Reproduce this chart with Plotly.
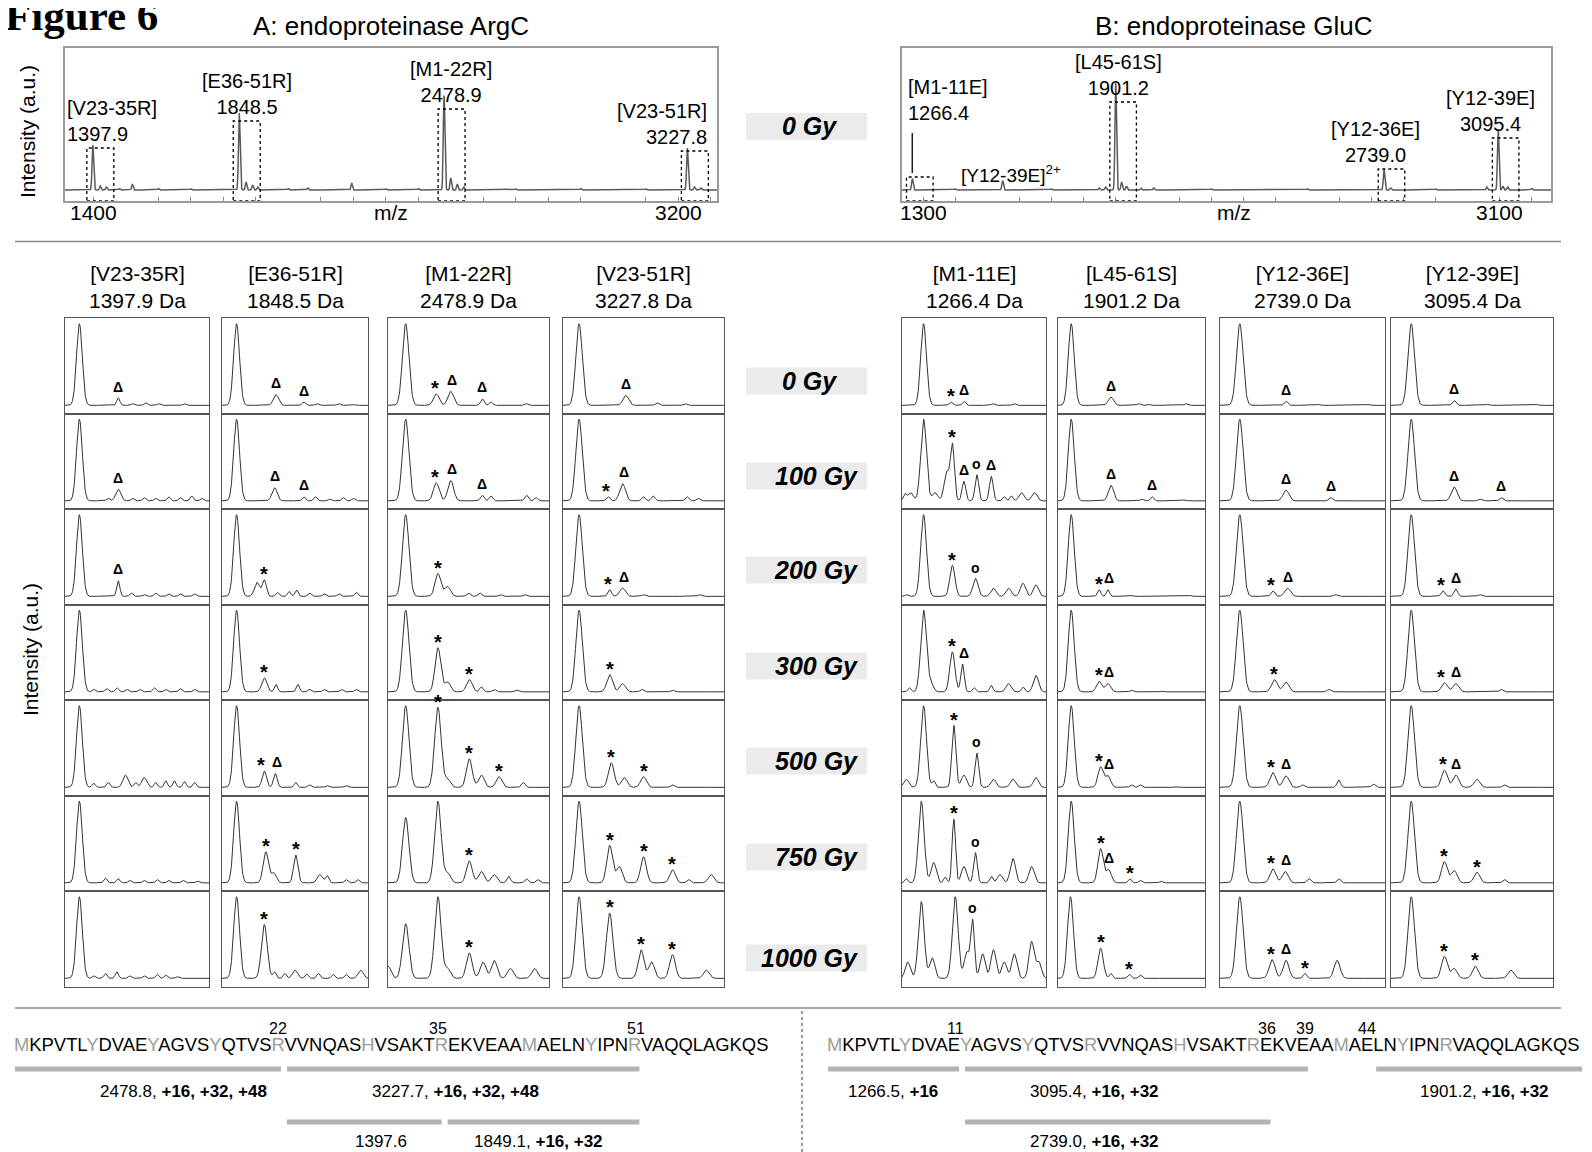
import numpy as np
import plotly.graph_objects as go

# The page body adds an 8 px margin, so the figure is drawn 8 px in from the corner.
OX, OY = 8, 8
W, H = 1592 - OX, 1152 - OY
FONT = "Liberation Sans, Arial, sans-serif"

# ------------------------------------------------------------------ data
DOSES = ["0 Gy", "100 Gy", "200 Gy", "300 Gy", "500 Gy", "750 Gy", "1000 Gy"]

ARGC_PEPTIDES = ["[V23-35R]", "[E36-51R]", "[M1-22R]", "[V23-51R]"]
ARGC_MASSES = [1397.9, 1848.5, 2478.9, 3227.8]
ARGC_INTENSITY = [38, 65, 77, 35]
ARGC_MINOR_MZ = [1400, 1421, 1440, 1520, 1851, 1870, 1890, 1906, 2060, 2195, 2481, 2500, 2520, 2540, 3230, 3250, 3270,
                 1480, 1600, 1700, 2000, 2300, 2400, 2700, 2900, 3100]
ARGC_MINOR_INT = [10, 4, 3, 6, 20, 8, 5, 3, 2, 7, 25, 12, 6, 3, 10, 3, 2,
                  1.5, 1.5, 1.2, 1.5, 1.2, 1.5, 1.2, 1.5, 1.2]
ARGC_TICKS = [1400, 3200]

GLUC_PEPTIDES = ["[M1-11E]", "[L45-61S]", "[Y12-36E]", "[Y12-39E]"]
GLUC_MASSES = [1266.4, 1901.2, 2739.0, 3095.4]
GLUC_INTENSITY = [9, 84, 17, 48]
GLUC_MINOR_MZ = [1268, 1548.2, 1550, 1850, 1870, 1903, 1920, 1935, 1980, 2020, 2741, 2760, 3060, 3097, 3110, 3125, 3200,
                 1400, 1700, 2200, 2500, 2900]
GLUC_MINOR_INT = [3, 7, 3, 2, 3, 30, 8, 4, 2, 2, 5, 2, 3, 15, 4, 3, 1.5,
                  1.2, 1.2, 1.2, 1.2, 1.2]
GLUC_TICKS = [1300, 3100]

# zoomed peak profiles: [position (fraction of window), relative height, (optional width)]
V23_35R_PEAKS = [
    [[0.10, 1], [0.37, 0.09], [0.47, 0.02], [0.56, 0.03], [0.65, 0.02], [0.83, 0.02]],
    [[0.10, 1], [0.37, 0.14], [0.30, 0.03], [0.47, 0.03], [0.55, 0.04], [0.63, 0.03], [0.72, 0.05], [0.80, 0.04], [0.88, 0.06], [0.95, 0.03]],
    [[0.10, 1], [0.37, 0.19, 0.011], [0.46, 0.04], [0.55, 0.02], [0.63, 0.04], [0.72, 0.03], [0.80, 0.03], [0.90, 0.03]],
    [[0.10, 1], [0.20, 0.03], [0.29, 0.04], [0.36, 0.05], [0.43, 0.03], [0.52, 0.03], [0.62, 0.05], [0.70, 0.03], [0.80, 0.04], [0.90, 0.03]],
    [[0.10, 1], [0.20, 0.05], [0.30, 0.06], [0.42, 0.15], [0.49, 0.06], [0.55, 0.12], [0.63, 0.06], [0.70, 0.08], [0.76, 0.08], [0.83, 0.07], [0.90, 0.06]],
    [[0.10, 1], [0.28, 0.06], [0.37, 0.05], [0.45, 0.03], [0.55, 0.03], [0.64, 0.04], [0.72, 0.03], [0.82, 0.03], [0.92, 0.02]],
    [[0.10, 1], [0.20, 0.03], [0.28, 0.06], [0.36, 0.08], [0.45, 0.03], [0.55, 0.03], [0.64, 0.05], [0.70, 0.04], [0.78, 0.02]],
]
V23_35R_MARKS = [[[0.37, "Δ"]], [[0.37, "Δ"]], [[0.37, "Δ"]], [], [], [], []]

E36_51R_PEAKS = [
    [[0.10, 1], [0.37, 0.13], [0.56, 0.04], [0.65, 0.02], [0.80, 0.02], [0.90, 0.01]],
    [[0.10, 1], [0.36, 0.16], [0.56, 0.05], [0.64, 0.05], [0.74, 0.02], [0.83, 0.04], [0.90, 0.03]],
    [[0.10, 1], [0.24, 0.17], [0.29, 0.20, 0.014], [0.38, 0.05], [0.46, 0.06], [0.51, 0.08], [0.60, 0.04], [0.70, 0.03], [0.80, 0.03], [0.92, 0.05]],
    [[0.10, 1], [0.29, 0.17], [0.37, 0.09], [0.52, 0.09], [0.60, 0.03], [0.70, 0.03], [0.82, 0.03], [0.92, 0.03]],
    [[0.10, 1], [0.29, 0.20, 0.015], [0.365, 0.17, 0.013], [0.505, 0.06], [0.60, 0.03], [0.72, 0.02], [0.85, 0.02]],
    [[0.10, 1], [0.30, 0.38], [0.355, 0.12], [0.505, 0.34, 0.015], [0.67, 0.10], [0.72, 0.09], [0.85, 0.04], [0.93, 0.04]],
    [[0.10, 1], [0.29, 0.66], [0.36, 0.08], [0.43, 0.06], [0.50, 0.10], [0.58, 0.05], [0.66, 0.06], [0.76, 0.05], [0.85, 0.05], [0.95, 0.10]],
]
E36_51R_MARKS = [[[0.37, "Δ"], [0.56, "Δ"]], [[0.36, "Δ"], [0.56, "Δ"]], [[0.29, "*"]], [[0.29, "*"]],
                 [[0.27, "*"], [0.38, "Δ"]], [[0.30, "*"], [0.505, "*"]], [[0.29, "*"]]]

M1_22R_PEAKS = [
    [[0.11, 1], [0.30, 0.14], [0.39, 0.17], [0.585, 0.08], [0.64, 0.04], [0.86, 0.02]],
    [[0.11, 1], [0.30, 0.22], [0.39, 0.25], [0.585, 0.07], [0.64, 0.06], [0.86, 0.07], [0.92, 0.04]],
    [[0.11, 1], [0.31, 0.28], [0.37, 0.12], [0.50, 0.04], [0.57, 0.04], [0.70, 0.02], [0.85, 0.02]],
    [[0.11, 1], [0.31, 0.54], [0.37, 0.12], [0.505, 0.15], [0.58, 0.06], [0.66, 0.03], [0.80, 0.02]],
    [[0.11, 1], [0.31, 0.98], [0.37, 0.10], [0.505, 0.35], [0.58, 0.15], [0.69, 0.13], [0.84, 0.06]],
    [[0.11, 0.8], [0.31, 1.0], [0.37, 0.12], [0.505, 0.27], [0.58, 0.14], [0.66, 0.10], [0.75, 0.08], [0.86, 0.05], [0.93, 0.04]],
    [[0.0, 0.15], [0.11, 0.67], [0.31, 1.0], [0.37, 0.12], [0.505, 0.31], [0.59, 0.20], [0.66, 0.22], [0.76, 0.12], [0.91, 0.12]],
]
M1_22R_MARKS = [[[0.29, "*"], [0.40, "Δ"], [0.585, "Δ"]], [[0.29, "*"], [0.40, "Δ"], [0.585, "Δ"]], [[0.31, "*"]],
                [[0.31, "*"], [0.505, "*"]], [[0.31, "*"], [0.505, "*"], [0.69, "*"]],
                [[0.31, "*"], [0.505, "*"]], [[0.31, "*"], [0.505, "*"]]]

V23_51R_PEAKS = [
    [[0.10, 1], [0.39, 0.12], [0.585, 0.03], [0.76, 0.02]],
    [[0.10, 1], [0.28, 0.05], [0.37, 0.21], [0.50, 0.05], [0.56, 0.06], [0.77, 0.05], [0.84, 0.03]],
    [[0.10, 1], [0.29, 0.08], [0.37, 0.10], [0.50, 0.02], [0.85, 0.02]],
    [[0.10, 1], [0.29, 0.21], [0.37, 0.10], [0.49, 0.03], [0.68, 0.02]],
    [[0.10, 1], [0.30, 0.30], [0.38, 0.12], [0.50, 0.13], [0.68, 0.03]],
    [[0.10, 1], [0.29, 0.46], [0.35, 0.20], [0.50, 0.32], [0.68, 0.16], [0.78, 0.04], [0.92, 0.10]],
    [[0.10, 1], [0.29, 0.80], [0.485, 0.35], [0.55, 0.20], [0.68, 0.29], [0.89, 0.10]],
]
V23_51R_MARKS = [[[0.39, "Δ"]], [[0.27, "*"], [0.38, "Δ"]], [[0.28, "*"], [0.38, "Δ"]], [[0.29, "*"]],
                 [[0.30, "*"], [0.50, "*"]], [[0.29, "*"], [0.50, "*"], [0.68, "*"]],
                 [[0.29, "*"], [0.485, "*"], [0.68, "*"]]]

M1_11E_PEAKS = [
    [[0.15, 1], [0.34, 0.04], [0.43, 0.05], [0.63, 0.02], [0.78, 0.02]],
    [[0.02, 0.08], [0.06, 0.10], [0.15, 1], [0.23, 0.10], [0.31, 0.35], [0.35, 0.68, 0.014], [0.43, 0.24, 0.013],
     [0.52, 0.32, 0.013], [0.62, 0.30, 0.013], [0.71, 0.05], [0.76, 0.06], [0.83, 0.10], [0.92, 0.10]],
    [[0.03, 0.02], [0.15, 1], [0.35, 0.38], [0.51, 0.22], [0.635, 0.10], [0.74, 0.10], [0.84, 0.16], [0.93, 0.14]],
    [[0.05, 0.05], [0.15, 1], [0.20, 0.10], [0.35, 0.49], [0.42, 0.34, 0.012], [0.50, 0.05], [0.62, 0.08],
     [0.74, 0.10], [0.84, 0.06], [0.93, 0.20]],
    [[0.03, 0.10], [0.15, 1], [0.22, 0.08], [0.36, 0.76, 0.014], [0.43, 0.15], [0.52, 0.42, 0.013], [0.635, 0.10],
     [0.77, 0.10], [0.93, 0.12]],
    [[0.03, 0.05], [0.134, 1], [0.22, 0.25], [0.30, 0.07], [0.36, 0.78, 0.012], [0.43, 0.20], [0.51, 0.37, 0.013],
     [0.62, 0.08], [0.68, 0.10], [0.77, 0.30], [0.90, 0.20]],
    [[0.04, 0.20], [0.134, 0.94], [0.21, 0.25], [0.37, 1.0], [0.45, 0.32], [0.49, 0.70, 0.013], [0.56, 0.30],
     [0.635, 0.35], [0.71, 0.20], [0.78, 0.30], [0.90, 0.45], [0.95, 0.20]],
]
M1_11E_MARKS = [[[0.34, "*"], [0.43, "Δ"]], [[0.35, "*"], [0.43, "Δ"], [0.52, "o"], [0.62, "Δ"]],
                [[0.35, "*"], [0.51, "o"]], [[0.35, "*"], [0.43, "Δ"]], [[0.36, "*"], [0.52, "o"]],
                [[0.36, "*"], [0.51, "o"]], [[0.37, "*"], [0.49, "o"]]]

L45_61S_PEAKS = [
    [[0.09, 1], [0.36, 0.10], [0.55, 0.02], [0.62, 0.01], [0.87, 0.02]],
    [[0.09, 1], [0.36, 0.19], [0.57, 0.02], [0.64, 0.05], [0.86, 0.01]],
    [[0.09, 1], [0.28, 0.08], [0.34, 0.08], [0.50, 0.01], [0.90, 0.01]],
    [[0.09, 1], [0.28, 0.13], [0.34, 0.10], [0.50, 0.02], [0.70, 0.01]],
    [[0.09, 1], [0.29, 0.25], [0.34, 0.14], [0.50, 0.03], [0.56, 0.03], [0.80, 0.01]],
    [[0.09, 1], [0.29, 0.42], [0.345, 0.16], [0.49, 0.05], [0.56, 0.03], [0.70, 0.02]],
    [[0.085, 1], [0.29, 0.37], [0.36, 0.06], [0.485, 0.05], [0.56, 0.04]],
]
L45_61S_MARKS = [[[0.36, "Δ"]], [[0.36, "Δ"], [0.64, "Δ"]], [[0.28, "*"], [0.35, "Δ"]], [[0.28, "*"], [0.35, "Δ"]],
                 [[0.28, "*"], [0.35, "Δ"]], [[0.29, "*"], [0.35, "Δ"], [0.49, "*"]], [[0.29, "*"], [0.485, "*"]]]

Y12_36E_PEAKS = [
    [[0.12, 1], [0.40, 0.05], [0.60, 0.01], [0.90, 0.01]],
    [[0.12, 1], [0.40, 0.13], [0.67, 0.04]],
    [[0.12, 1], [0.32, 0.07], [0.41, 0.10], [0.70, 0.02]],
    [[0.12, 1], [0.33, 0.15], [0.40, 0.12], [0.66, 0.03]],
    [[0.12, 1], [0.32, 0.18], [0.40, 0.14], [0.50, 0.03], [0.72, 0.09], [0.93, 0.04]],
    [[0.12, 1], [0.32, 0.17], [0.395, 0.14], [0.54, 0.05], [0.72, 0.05]],
    [[0.12, 1], [0.315, 0.23], [0.40, 0.22], [0.515, 0.06], [0.71, 0.22]],
]
Y12_36E_MARKS = [[[0.40, "Δ"]], [[0.40, "Δ"], [0.67, "Δ"]], [[0.31, "*"], [0.41, "Δ"]], [[0.33, "*"]],
                 [[0.31, "*"], [0.40, "Δ"]], [[0.31, "*"], [0.40, "Δ"]], [[0.31, "*"], [0.40, "Δ"], [0.515, "*"]]]

Y12_39E_PEAKS = [
    [[0.125, 1], [0.39, 0.06], [0.60, 0.01], [0.90, 0.01]],
    [[0.125, 1], [0.39, 0.17], [0.55, 0.02], [0.68, 0.04]],
    [[0.125, 1], [0.32, 0.07], [0.40, 0.09], [0.55, 0.02]],
    [[0.125, 1], [0.33, 0.11], [0.40, 0.10], [0.68, 0.03]],
    [[0.125, 1], [0.33, 0.21], [0.40, 0.15], [0.53, 0.10], [0.70, 0.03]],
    [[0.125, 1], [0.33, 0.26], [0.39, 0.15], [0.53, 0.13], [0.70, 0.04]],
    [[0.125, 1], [0.33, 0.27], [0.39, 0.12], [0.52, 0.15], [0.74, 0.10]],
]
Y12_39E_MARKS = [[[0.39, "Δ"]], [[0.39, "Δ"], [0.68, "Δ"]], [[0.31, "*"], [0.40, "Δ"]], [[0.31, "*"], [0.40, "Δ"]],
                 [[0.32, "*"], [0.40, "Δ"]], [[0.33, "*"], [0.53, "*"]], [[0.33, "*"], [0.52, "*"]]]

SEQUENCE = "MKPVTLYDVAEYAGVSYQTVSRVVNQASHVSAKTREKVEAAMAELNYIPNRVAQQLAGKQS"
GREY_RESIDUES = [1, 7, 12, 17, 22, 29, 35, 42, 47, 51]
ARGC_CUT_SITES = [22, 35, 51]
GLUC_CUT_SITES = [11, 36, 39, 44]
# fragments: (first residue, last residue, mass text, oxidation text, row)
ARGC_FRAGMENTS = [(1, 22, "2478.8", "+16, +32, +48", 0), (23, 51, "3227.7", "+16, +32, +48", 0),
                  (23, 35, "1397.6", "", 1), (36, 51, "1849.1", "+16, +32", 1)]
GLUC_FRAGMENTS = [(1, 11, "1266.5", "+16", 0), (12, 39, "3095.4", "+16, +32", 0),
                  (45, 61, "1901.2", "+16, +32", 0), (12, 36, "2739.0", "+16, +32", 1)]

# ------------------------------------------------------------------ layout helpers (screen px -> paper)
fig = go.Figure()
axes = {}
annotations = []
shapes = []


def PX(x):
    return (x - OX) / W


def PY(y):
    return 1 - (y - OY) / H


def names(k):
    s = "" if k == 1 else str(k)
    return "xaxis" + s, "yaxis" + s, "x" + s, "y" + s


def text(x, y, t, size, xanchor="center", yanchor="middle", **kw):
    d = dict(x=PX(x), y=PY(y), xref="paper", yref="paper", text=t, showarrow=False,
             xanchor=xanchor, yanchor=yanchor,
             font=dict(family=kw.pop("family", FONT), size=size, color=kw.pop("color", "black"),
                       style=kw.pop("style", "normal"), weight=kw.pop("weight", "normal")))
    d.update(kw)
    annotations.append(d)


def rect(x0, y0, x1, y1, **kw):
    shapes.append(dict(type="rect", xref="paper", yref="paper", x0=PX(x0), x1=PX(x1),
                       y0=PY(y1), y1=PY(y0), **kw))


def hline(x0, x1, y, color, width, dash="solid"):
    shapes.append(dict(type="line", xref="paper", yref="paper", x0=PX(x0), x1=PX(x1),
                       y0=PY(y), y1=PY(y), line=dict(color=color, width=width, dash=dash)))


# ------------------------------------------------------------------ top survey spectra
SPEC_BOX_Y = (48, 201)
SPEC_BASE = 190
spec_yr = [-(SPEC_BOX_Y[1] - SPEC_BASE), SPEC_BASE - SPEC_BOX_Y[0]]


def spectrum(k, px0, px1, xr, ticks, masses, ints, mz_minor, int_minor, peptides, label_cfg):
    xa, ya, xs, ys = names(k)
    mz = np.arange(xr[0], xr[1], 0.5)
    y = np.zeros_like(mz)
    for m, h in zip(list(masses) + list(mz_minor), list(ints) + list(int_minor)):
        y += h * np.exp(-0.5 * ((mz - m) / 2.3) ** 2)
    fig.add_trace(go.Scatter(x=mz, y=y, xaxis=xs, yaxis=ys, mode="lines",
                             line=dict(color="#5a5a5a", width=1.5), hoverinfo="skip", showlegend=False))
    axes[xa] = dict(domain=[PX(px0), PX(px1)], range=xr, anchor=ys, showgrid=False, zeroline=False,
                    showline=True, mirror=True, linecolor="#9a9a9a", linewidth=2,
                    showticklabels=False, ticks="",
                    minor=dict(tickmode="linear", tick0=ticks[0], dtick=100, ticks="inside", ticklen=4,
                               tickcolor="#888", showgrid=False))
    axes[ya] = dict(domain=[PY(SPEC_BOX_Y[1]), PY(SPEC_BOX_Y[0])], range=spec_yr, anchor=xs,
                    showgrid=False, zeroline=False, showticklabels=False, showline=True, mirror=True,
                    linecolor="#9a9a9a", linewidth=2)
    for t in ticks:
        annotations.append(dict(x=t, y=PY(213), xref=xs, yref="paper", text=str(t), showarrow=False,
                                xanchor="center", yanchor="middle", font=dict(family=FONT, size=21, color="black")))
    for (m, h, pep), (xanc, xsh, ybot) in zip(zip(masses, ints, peptides), label_cfg):
        top = h + 4
        shapes.append(dict(type="rect", xref=xs, yref=ys, x0=m - 18, x1=m + 65, y0=spec_yr[0], y1=top,
                           line=dict(color="black", width=1.3, dash="dot")))
        if xanc == "left":
            xv = m - 18
        elif xanc == "right":
            xv = m + 65
        else:
            xv = m + 23
        annotations.append(dict(x=xv, y=(ybot if ybot is not None else top + 1), xref=xs, yref=ys,
                                text=f"{pep}<br>{m:.1f}", showarrow=False, xanchor=xanc, yanchor="bottom",
                                xshift=xsh, align=xanc,
                                font=dict(family=FONT, size=20, color="black")))


spectrum(1, 65, 717, [1312.6, 3319.4], ARGC_TICKS, ARGC_MASSES, ARGC_INTENSITY, ARGC_MINOR_MZ, ARGC_MINOR_INT,
         ARGC_PEPTIDES, [("left", -22, None), ("center", 0, None), ("center", 0, None), ("right", 1, None)])
spectrum(2, 902, 1551, [1234.4, 3260.5], GLUC_TICKS, GLUC_MASSES, GLUC_INTENSITY, GLUC_MINOR_MZ, GLUC_MINOR_INT,
         GLUC_PEPTIDES, [("left", 0, 64), ("center", -4, None), ("center", -16, None), ("center", -15, None)])
# pointer line for the small [M1-11E] peak and the doubly charged label
shapes.append(dict(type="line", xref="x2", yref="y2", x0=GLUC_MASSES[0], x1=GLUC_MASSES[0], y0=17, y1=57,
                   line=dict(color="black", width=1.3)))
annotations.append(dict(x=GLUC_MINOR_MZ[1] + 25, y=16, xref="x2", yref="y2",
                        text="[Y12-39E]<sup>2+</sup>", showarrow=False, xanchor="center", yanchor="middle",
                        font=dict(family=FONT, size=19, color="black")))

text(391, 212, "m/z", 21)
text(1234, 212, "m/z", 21)
text(28, 132, "Intensity (a.u.)", 21, textangle=-90)
text(391, 26, "A: endoproteinase ArgC", 26)
text(1234, 26, "B: endoproteinase GluC", 26)
text(3, 15, "Figure 6", 43, xanchor="left", family="Liberation Serif, Times New Roman, serif", weight="bold")

# ------------------------------------------------------------------ dose labels
DOSE_X = (746, 867)
rect(DOSE_X[0], 113, DOSE_X[1], 140, fillcolor="#ebebeb", line=dict(width=0), layer="below")
text(809, 126.5, DOSES[0], 25, style="italic", weight="bold")
DOSE_Y = [381, 476, 570, 666, 761, 857, 958]
for i, (lab, yy) in enumerate(zip(DOSES, DOSE_Y)):
    rect(DOSE_X[0], yy - 13.5, DOSE_X[1], yy + 13.5, fillcolor="#ebebeb", line=dict(width=0), layer="below")
    if i == 0:
        text(809, yy, lab, 25, style="italic", weight="bold")
    else:
        text(860, yy, lab, 25, xanchor="right", style="italic", weight="bold")

hline(15, 1561, 241.5, "#8a8a8a", 1.5)
hline(15, 1561, 1008, "#8a8a8a", 1.5)
shapes.append(dict(type="line", xref="paper", yref="paper", x0=PX(802), x1=PX(802), y0=0, y1=PY(1008),
                   line=dict(color="#333", width=1, dash="dot")))
text(30, 650, "Intensity (a.u.)", 21, textangle=-90)

# ------------------------------------------------------------------ grid of zoomed windows
GRID = np.linspace(0, 1, 401)


def profile(peaks):
    y = np.zeros_like(GRID)
    for p in peaks:
        pos, h = p[0], p[1]
        if len(p) > 2:
            s = p[2]
        elif h >= 0.6:
            s = 0.02
        elif h >= 0.1:
            s = 0.018
        else:
            s = 0.011
        y += h * np.exp(-0.5 * ((GRID - pos) / s) ** 2)
    return y


COLUMNS = [
    (ARGC_PEPTIDES[0], ARGC_MASSES[0], V23_35R_PEAKS, V23_35R_MARKS, (65, 209)),
    (ARGC_PEPTIDES[1], ARGC_MASSES[1], E36_51R_PEAKS, E36_51R_MARKS, (222, 368)),
    (ARGC_PEPTIDES[2], ARGC_MASSES[2], M1_22R_PEAKS, M1_22R_MARKS, (388, 549)),
    (ARGC_PEPTIDES[3], ARGC_MASSES[3], V23_51R_PEAKS, V23_51R_MARKS, (563, 724)),
    (GLUC_PEPTIDES[0], GLUC_MASSES[0], M1_11E_PEAKS, M1_11E_MARKS, (902, 1046)),
    (GLUC_PEPTIDES[1], GLUC_MASSES[1], L45_61S_PEAKS, L45_61S_MARKS, (1058, 1205)),
    (GLUC_PEPTIDES[2], GLUC_MASSES[2], Y12_36E_PEAKS, Y12_36E_MARKS, (1220, 1385)),
    (GLUC_PEPTIDES[3], GLUC_MASSES[3], Y12_39E_PEAKS, Y12_39E_MARKS, (1391, 1553)),
]
ROW_TOP, ROW_H = 318, 95.5
PANEL_YR = [-0.1, 1.07]
MARK_STYLE = {"*": (20, 0.07), "Δ": (14, 0.14), "o": (14, 0.13)}

k = 3
for c, (pep, mass, peaks, marks, (px0, px1)) in enumerate(COLUMNS):
    text((px0 + px1) / 2, 287, f"{pep}<br>{mass:.1f} Da", 21)
    for r in range(len(DOSES)):
        xa, ya, xs, ys = names(k)
        top = ROW_TOP + r * ROW_H
        y = profile(peaks[r])
        fig.add_trace(go.Scatter(x=GRID, y=y, xaxis=xs, yaxis=ys, mode="lines",
                                 line=dict(color="#333", width=1), hoverinfo="skip", showlegend=False))
        axes[xa] = dict(domain=[PX(px0), PX(px1)], range=[0, 1], anchor=ys, showgrid=False, zeroline=False,
                        showticklabels=False, ticks="", showline=True, mirror=True, linecolor="#555", linewidth=1.3)
        axes[ya] = dict(domain=[PY(top + ROW_H), PY(top)], range=PANEL_YR, anchor=xs, showgrid=False,
                        zeroline=False, showticklabels=False, ticks="", showline=True, mirror=True,
                        linecolor="#555", linewidth=1.3)
        for mx, sym in marks[r]:
            sel = np.abs(GRID - mx) <= 0.03
            size, off = MARK_STYLE[sym]
            annotations.append(dict(x=mx, y=float(y[sel].max()) + off, xref=xs, yref=ys, text=sym,
                                    showarrow=False, xanchor="center", yanchor="middle",
                                    font=dict(family=FONT, size=size, color="black", weight="bold")))
        k += 1

# ------------------------------------------------------------------ sequences


def seq_html():
    out = []
    for i, ch in enumerate(SEQUENCE, start=1):
        out.append(f'<span style="color:#9c9c9c">{ch}</span>' if i in GREY_RESIDUES else ch)
    return "".join(out)


def sequence_block(x0, x1, font_size, cuts, frags, label_x):
    cw = (x1 - x0) / len(SEQUENCE)
    text(x0, 1044, seq_html(), font_size, xanchor="left")
    for s in cuts:
        text(x0 + (s - 0.5) * cw, 1028, str(s), 16)
    for (a, b, m, ox, row), lx in zip(frags, label_x):
        yb = 1069 if row == 0 else 1122
        hline(x0 + (a - 1) * cw + 3, x0 + b * cw - 3, yb, "#b3b3b3", 5)
        lab = m + (f", <b>{ox}</b>" if ox else "")
        text(lx, yb + (22 if row == 0 else 19), lab, 17)


sequence_block(12, 766, 18.4, ARGC_CUT_SITES, ARGC_FRAGMENTS, [183, 455, 381, 538])
sequence_block(825, 1585, 18.35, GLUC_CUT_SITES, GLUC_FRAGMENTS, [893, 1094, 1484, 1094])

fig.update_layout(width=W, height=H, margin=dict(l=0, r=0, t=0, b=0), paper_bgcolor="white",
                  plot_bgcolor="white", showlegend=False, annotations=annotations, shapes=shapes,
                  font=dict(family=FONT), **axes)
fig.write_html("out.html")
